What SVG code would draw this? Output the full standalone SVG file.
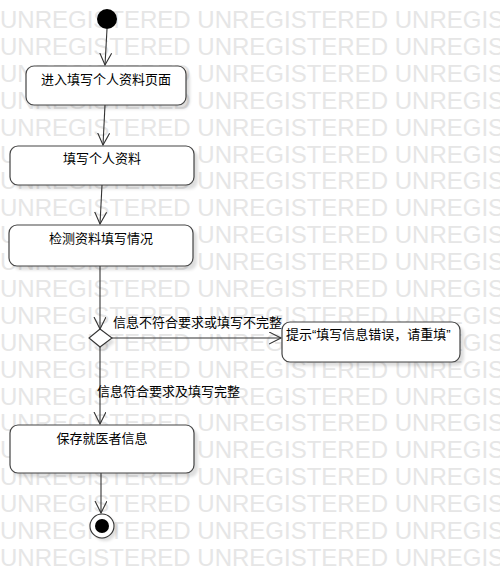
<svg xmlns="http://www.w3.org/2000/svg" width="500" height="579" viewBox="0 0 500 579">
<style>
.wm{font-family:"Liberation Sans",Arial,sans-serif;font-size:24px;fill:#e6e6e6}
.t{font-family:"Liberation Sans","Noto Sans CJK SC",sans-serif;font-size:13px;fill:#000}
.box{fill:#fff;stroke:#444;stroke-width:1.2}
.sh{fill:#000;opacity:0.13;filter:url(#blur)}
.ln{stroke:#333;stroke-width:1.1;fill:none}
</style>
<defs>
<filter id="blur" x="-20%" y="-20%" width="140%" height="140%"><feGaussianBlur stdDeviation="1.5"/></filter>
<marker id="arr" markerWidth="14" markerHeight="14" refX="12" refY="6" orient="auto" markerUnits="userSpaceOnUse">
<path d="M0,0 L12,6 L0,12" fill="none" stroke="#333" stroke-width="1.1"/>
</marker>
</defs>
<rect width="500" height="579" fill="#fff"/>
<g id="watermark">
<text class="wm" x="0" y="28">UNREGISTERED UNREGISTERED UNREGISTERED</text>
<text class="wm" x="0" y="55">UNREGISTERED UNREGISTERED UNREGISTERED</text>
<text class="wm" x="0" y="82">UNREGISTERED UNREGISTERED UNREGISTERED</text>
<text class="wm" x="0" y="109">UNREGISTERED UNREGISTERED UNREGISTERED</text>
<text class="wm" x="0" y="136">UNREGISTERED UNREGISTERED UNREGISTERED</text>
<text class="wm" x="0" y="163">UNREGISTERED UNREGISTERED UNREGISTERED</text>
<text class="wm" x="0" y="189">UNREGISTERED UNREGISTERED UNREGISTERED</text>
<text class="wm" x="0" y="216">UNREGISTERED UNREGISTERED UNREGISTERED</text>
<text class="wm" x="0" y="243">UNREGISTERED UNREGISTERED UNREGISTERED</text>
<text class="wm" x="0" y="270">UNREGISTERED UNREGISTERED UNREGISTERED</text>
<text class="wm" x="0" y="297">UNREGISTERED UNREGISTERED UNREGISTERED</text>
<text class="wm" x="0" y="324">UNREGISTERED UNREGISTERED UNREGISTERED</text>
<text class="wm" x="0" y="351">UNREGISTERED UNREGISTERED UNREGISTERED</text>
<text class="wm" x="0" y="378">UNREGISTERED UNREGISTERED UNREGISTERED</text>
<text class="wm" x="0" y="405">UNREGISTERED UNREGISTERED UNREGISTERED</text>
<text class="wm" x="0" y="431">UNREGISTERED UNREGISTERED UNREGISTERED</text>
<text class="wm" x="0" y="458">UNREGISTERED UNREGISTERED UNREGISTERED</text>
<text class="wm" x="0" y="485">UNREGISTERED UNREGISTERED UNREGISTERED</text>
<text class="wm" x="0" y="512">UNREGISTERED UNREGISTERED UNREGISTERED</text>
<text class="wm" x="0" y="539">UNREGISTERED UNREGISTERED UNREGISTERED</text>
<text class="wm" x="0" y="566">UNREGISTERED UNREGISTERED UNREGISTERED</text>
</g>
<g id="connectors">
<line class="ln" x1="107" y1="29" x2="105" y2="65" marker-end="url(#arr)"/>
<line class="ln" x1="105" y1="105" x2="103" y2="145" marker-end="url(#arr)"/>
<line class="ln" x1="102" y1="185" x2="100" y2="224" marker-end="url(#arr)"/>
<line class="ln" x1="100" y1="266" x2="100" y2="329" marker-end="url(#arr)"/>
<line class="ln" x1="112" y1="338" x2="281" y2="338" marker-end="url(#arr)"/>
<line class="ln" x1="100" y1="347" x2="100" y2="424" marker-end="url(#arr)"/>
<line class="ln" x1="101" y1="473" x2="101" y2="513" marker-end="url(#arr)"/>
<text class="t" x="113" y="327">信息不符合要求或填写不完整</text>
<text class="t" x="97" y="396">信息符合要求及填写完整</text>
</g>
<g id="start">
<circle cx="107" cy="19" r="10" fill="#000"/>
</g>
<g id="n1">
<rect class="sh" x="30" y="70" width="160" height="39" rx="8"/>
<rect class="box" x="26" y="66" width="160" height="39" rx="8"/>
<text class="t" x="106" y="84" text-anchor="middle">进入填写个人资料页面</text>
</g>
<g id="n2">
<rect class="sh" x="14" y="150" width="184" height="39" rx="8"/>
<rect class="box" x="10" y="146" width="184" height="39" rx="8"/>
<text class="t" x="102" y="163" text-anchor="middle">填写个人资料</text>
</g>
<g id="n3">
<rect class="sh" x="13" y="229" width="184" height="41" rx="8"/>
<rect class="box" x="9" y="225" width="184" height="41" rx="8"/>
<text class="t" x="101" y="243" text-anchor="middle">检测资料填写情况</text>
</g>
<g id="decision">
<path class="sh" d="M103,333 L115,342 L103,351 L92,342 Z"/>
<path d="M100,329 L112,338 L100,347 L89,338 Z" fill="#fff" stroke="#333" stroke-width="1.1"/>
</g>
<g id="n4">
<rect class="sh" x="286" y="326" width="178" height="40" rx="8"/>
<rect class="box" x="282" y="322" width="178" height="40" rx="8"/>
<text class="t" x="286" y="339">提示“填写信息错误，请重填”</text>
</g>
<g id="n5">
<rect class="sh" x="14" y="429" width="184" height="48" rx="8"/>
<rect class="box" x="10" y="425" width="184" height="48" rx="8"/>
<text class="t" x="102" y="443" text-anchor="middle">保存就医者信息</text>
</g>
<g id="end">
<circle class="sh" cx="105" cy="529" r="12"/>
<circle cx="102" cy="526" r="12" fill="#fff" stroke="#333" stroke-width="1.1"/>
<circle cx="102" cy="526" r="7" fill="#000"/>
</g>
</svg>
